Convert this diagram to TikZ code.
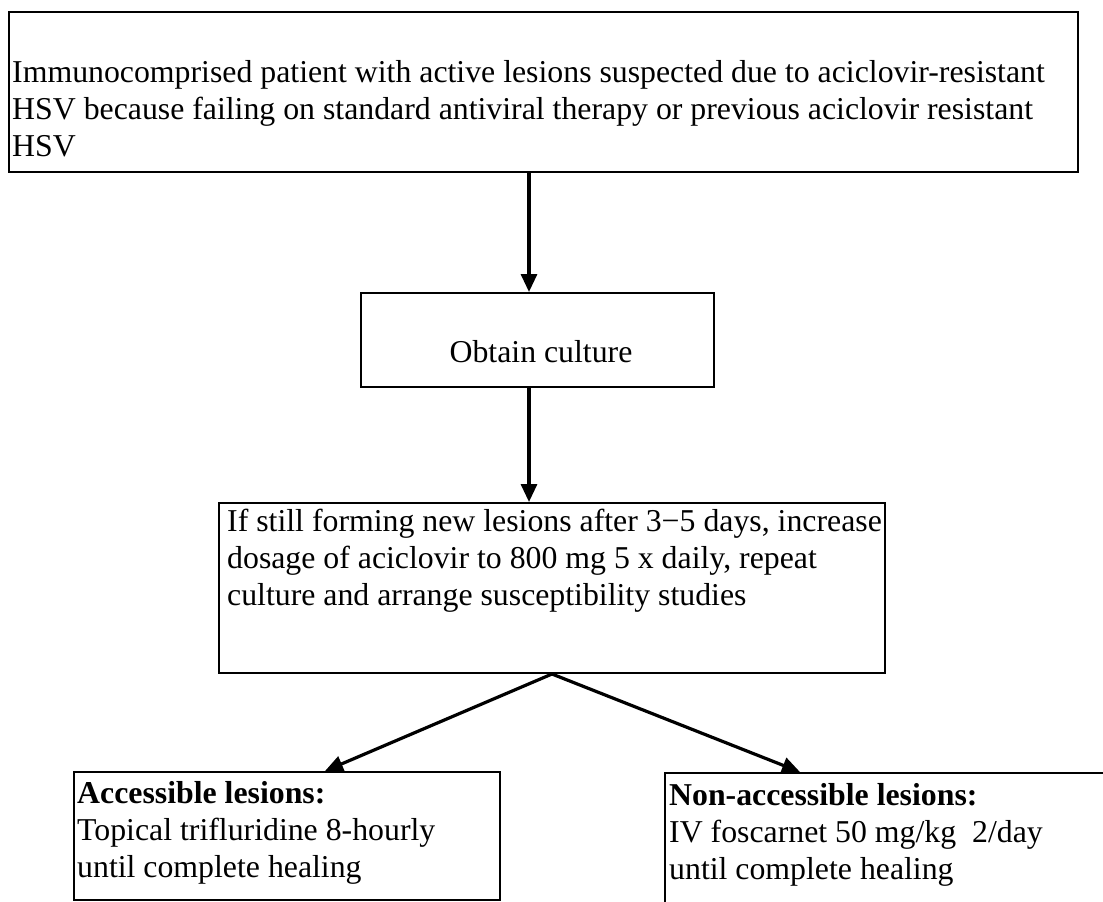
\documentclass[tikz,border=0pt]{standalone}
\usepackage{fontspec}
\setmainfont{Liberation Serif}
\usetikzlibrary{arrows.meta}

\tikzset{
  box/.style={draw=black, line width=2pt, rectangle, inner sep=0pt, anchor=north west},
  conn/.style={draw=black, line width=3.2pt, -{Triangle[length=18pt,width=16pt]}},
  txt/.style={inner sep=0pt, font=\fontsize{31.8}{37.3}\selectfont},
}

\begin{document}
\begin{tikzpicture}[x=1pt,y=-1pt]
  \useasboundingbox (0,0) rectangle (1103,902);
  \fill[white] (0,0) rectangle (1103,902);
  \clip (0,0) rectangle (1103,902);

  % boxes
  \node[box, minimum width=1069pt, minimum height=160pt] (start)  at (8,11)   {};
  \node[box, minimum width=353pt,  minimum height=94pt]  (obtain) at (360,292) {};
  \node[box, minimum width=666pt,  minimum height=170pt] (check)  at (218,502) {};
  \node[box, minimum width=426pt,  minimum height=128pt] (access) at (73,771)  {};
  \node[box, minimum width=500pt,  minimum height=150pt] (nonacc) at (664,772) {};

  % box texts
  \node[txt, anchor=base west] (startT) at (12,82) {\begin{tabular}[t]{@{}l@{}}
    Immunocomprised patient with active lesions suspected due to aciclovir-resistant\\
    HSV because failing on standard antiviral therapy or previous aciclovir resistant\\
    HSV\end{tabular}};
  \node[txt, anchor=base] (obtainT) at (541,362) {Obtain culture};
  \node[txt, anchor=base west] (checkT) at (227,531) {\begin{tabular}[t]{@{}l@{}}
    If still forming new lesions after 3−5 days, increase\\
    dosage of aciclovir to 800 mg 5 x daily, repeat\\
    culture and arrange susceptibility studies\end{tabular}};
  \node[txt, anchor=base west] (accessT) at (77,803) {\begin{tabular}[t]{@{}l@{}}
    \textbf{Accessible lesions:}\\
    Topical trifluridine 8-hourly\\
    until complete healing\end{tabular}};
  \node[txt, anchor=base west] (nonaccT) at (669,805) {\begin{tabular}[t]{@{}l@{}}
    \textbf{Non-accessible lesions:}\\
    IV foscarnet 50 mg/kg\ \ 2/day\\
    until complete healing\end{tabular}};

  % connector guide points
  \coordinate (spine) at (529,0);
  \coordinate (tipL) at (325,0);
  \coordinate (tipR) at (800,0);

  % connectors
  \draw[conn] (start.south -| spine) -- (obtain.north -| spine);
  \draw[conn] (obtain.south -| spine) -- (check.north -| spine);
  \draw[conn] (check.south) -- (access.north -| tipL);
  \draw[conn] (check.south) -- (nonacc.north -| tipR);
\end{tikzpicture}
\end{document}
